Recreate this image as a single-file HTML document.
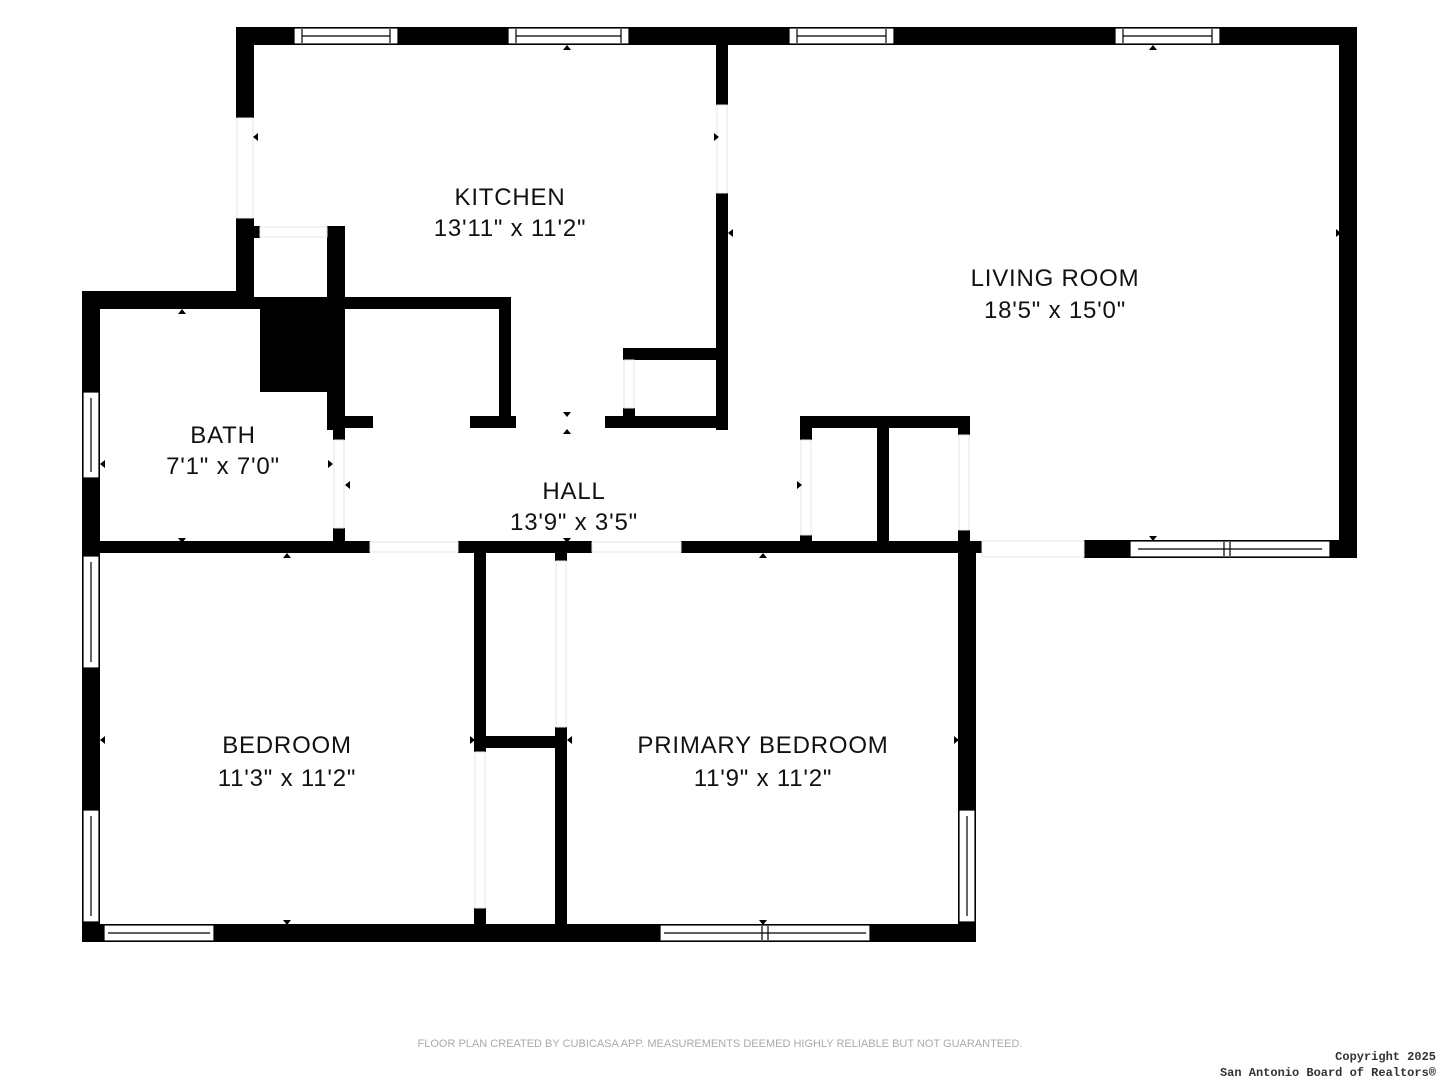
<!DOCTYPE html>
<html><head><meta charset="utf-8"><style>
html,body{margin:0;padding:0;background:#fff;width:1440px;height:1080px;overflow:hidden}
svg{display:block}
text{font-family:"Liberation Sans",sans-serif;fill:#111}
</style></head><body>
<svg width="1440" height="1080" viewBox="0 0 1440 1080" xmlns="http://www.w3.org/2000/svg">
<g fill="#000">
<rect x="236" y="27" width="1121" height="18"/>
<rect x="236" y="27" width="18" height="91"/>
<rect x="236" y="218" width="18" height="91"/>
<rect x="254" y="226" width="6" height="12"/>
<rect x="327" y="226" width="18" height="204"/>
<rect x="82" y="291" width="172" height="18"/>
<rect x="254" y="297" width="257" height="12"/>
<rect x="260" y="297" width="85" height="95"/>
<rect x="499" y="297" width="12" height="131"/>
<rect x="716" y="45" width="12" height="60"/>
<rect x="716" y="193" width="12" height="237"/>
<rect x="623" y="348" width="105" height="12"/>
<rect x="623" y="348" width="12" height="12"/>
<rect x="623" y="408" width="12" height="8"/>
<rect x="605" y="416" width="123" height="12"/>
<rect x="345" y="416" width="28" height="12"/>
<rect x="470" y="416" width="46" height="12"/>
<rect x="800" y="416" width="170" height="12"/>
<rect x="333" y="309" width="12" height="131"/>
<rect x="333" y="528" width="12" height="20"/>
<rect x="1339" y="27" width="18" height="531"/>
<rect x="1084" y="540" width="273" height="18"/>
<rect x="800" y="416" width="12" height="24"/>
<rect x="800" y="535" width="12" height="13"/>
<rect x="877" y="428" width="12" height="120"/>
<rect x="958" y="416" width="12" height="19"/>
<rect x="958" y="530" width="12" height="18"/>
<rect x="82" y="541" width="288" height="12"/>
<rect x="458" y="541" width="134" height="12"/>
<rect x="681" y="541" width="301" height="12"/>
<rect x="555" y="553" width="12" height="8"/>
<rect x="82" y="291" width="18" height="651"/>
<rect x="82" y="924" width="894" height="18"/>
<rect x="958" y="548" width="18" height="394"/>
<rect x="474" y="553" width="12" height="199"/>
<rect x="474" y="908" width="12" height="34"/>
<rect x="555" y="727" width="12" height="215"/>
<rect x="474" y="736" width="93" height="12"/>
</g>
<g fill="#fff" stroke="#e6e6e6" stroke-width="1">
<rect x="237" y="118" width="16" height="100"/>
<rect x="717" y="105" width="10" height="88"/>
<rect x="260" y="227" width="67" height="10"/>
<rect x="624" y="360" width="10" height="48"/>
<rect x="334" y="440" width="10" height="88"/>
<rect x="556" y="561" width="10" height="166"/>
<rect x="475" y="752" width="10" height="156"/>
<rect x="370" y="542" width="88" height="10"/>
<rect x="592" y="542" width="89" height="10"/>
<rect x="982" y="541" width="102" height="16"/>
<rect x="801" y="440" width="10" height="95"/>
<rect x="959" y="435" width="10" height="95"/>
</g>
<g fill="#fff" stroke="#000" stroke-width="1.2">
<rect x="294" y="28" width="104" height="16"/><line x1="302" y1="36" x2="390" y2="36"/><line x1="302" y1="29" x2="302" y2="43"/><line x1="390" y1="29" x2="390" y2="43"/>
<rect x="508" y="28" width="121" height="16"/><line x1="516" y1="36" x2="621" y2="36"/><line x1="516" y1="29" x2="516" y2="43"/><line x1="621" y1="29" x2="621" y2="43"/>
<rect x="789" y="28" width="105" height="16"/><line x1="797" y1="36" x2="886" y2="36"/><line x1="797" y1="29" x2="797" y2="43"/><line x1="886" y1="29" x2="886" y2="43"/>
<rect x="1115" y="28" width="105" height="16"/><line x1="1123" y1="36" x2="1212" y2="36"/><line x1="1123" y1="29" x2="1123" y2="43"/><line x1="1212" y1="29" x2="1212" y2="43"/>
<rect x="1130" y="541" width="200" height="16"/><line x1="1138" y1="549" x2="1322" y2="549"/><line x1="1230" y1="542" x2="1230" y2="556"/><line x1="1224" y1="542" x2="1224" y2="556"/>
<rect x="104" y="925" width="110" height="16"/><line x1="108" y1="933" x2="210" y2="933"/>
<rect x="660" y="925" width="210" height="16"/><line x1="664" y1="933" x2="866" y2="933"/><line x1="762" y1="926" x2="762" y2="940"/><line x1="768" y1="926" x2="768" y2="940"/>
<rect x="83" y="392" width="16" height="86"/><line x1="91" y1="398" x2="91" y2="472"/>
<rect x="83" y="556" width="16" height="112"/><line x1="91" y1="562" x2="91" y2="662"/>
<rect x="83" y="810" width="16" height="112"/><line x1="91" y1="816" x2="91" y2="916"/>
<rect x="959" y="810" width="16" height="112"/><line x1="967" y1="816" x2="967" y2="916"/>
</g>
<g fill="#000">
<polygon points="563,50 571,50 567,45"/>
<polygon points="1149,50 1157,50 1153,45"/>
<polygon points="178,314 186,314 182,309"/>
<polygon points="283,558 291,558 287,553"/>
<polygon points="759,558 767,558 763,553"/>
<polygon points="563,434 571,434 567,429"/>
<polygon points="563,412 571,412 567,417"/>
<polygon points="178,538 186,538 182,543"/>
<polygon points="563,538 571,538 567,543"/>
<polygon points="1149,536 1157,536 1153,541"/>
<polygon points="283,920 291,920 287,925"/>
<polygon points="759,920 767,920 763,925"/>
<polygon points="258,133 258,141 253,137"/>
<polygon points="714,133 714,141 719,137"/>
<polygon points="733,229 733,237 728,233"/>
<polygon points="1336,229 1336,237 1341,233"/>
<polygon points="105,460 105,468 100,464"/>
<polygon points="328,460 328,468 333,464"/>
<polygon points="350,481 350,489 345,485"/>
<polygon points="797,481 797,489 802,485"/>
<polygon points="105,736 105,744 100,740"/>
<polygon points="470,736 470,744 475,740"/>
<polygon points="572,736 572,744 567,740"/>
<polygon points="954,736 954,744 959,740"/>
</g>
<g font-size="24" text-anchor="middle" letter-spacing="0.8">
<text x="510" y="205">KITCHEN</text>
<text x="510" y="236">13'11" x 11'2"</text>
<text x="1055" y="286">LIVING ROOM</text>
<text x="1055" y="318">18'5" x 15'0"</text>
<text x="223" y="443">BATH</text>
<text x="223" y="474">7'1" x 7'0"</text>
<text x="574" y="499">HALL</text>
<text x="574" y="530">13'9" x 3'5"</text>
<text x="287" y="753">BEDROOM</text>
<text x="287" y="786">11'3" x 11'2"</text>
<text x="763" y="753">PRIMARY BEDROOM</text>
<text x="763" y="786">11'9" x 11'2"</text>
</g>
<text x="720" y="1047" font-size="11" text-anchor="middle" style="fill:#aaa">FLOOR PLAN CREATED BY CUBICASA APP. MEASUREMENTS DEEMED HIGHLY RELIABLE BUT NOT GUARANTEED.</text>
<text x="1436" y="1060" font-size="12" font-weight="bold" text-anchor="end" style="fill:#333;font-family:'Liberation Mono',monospace">Copyright 2025</text>
<text x="1436" y="1076" font-size="12" font-weight="bold" text-anchor="end" style="fill:#333;font-family:'Liberation Mono',monospace">San Antonio Board of Realtors®</text>
</svg>
</body></html>
